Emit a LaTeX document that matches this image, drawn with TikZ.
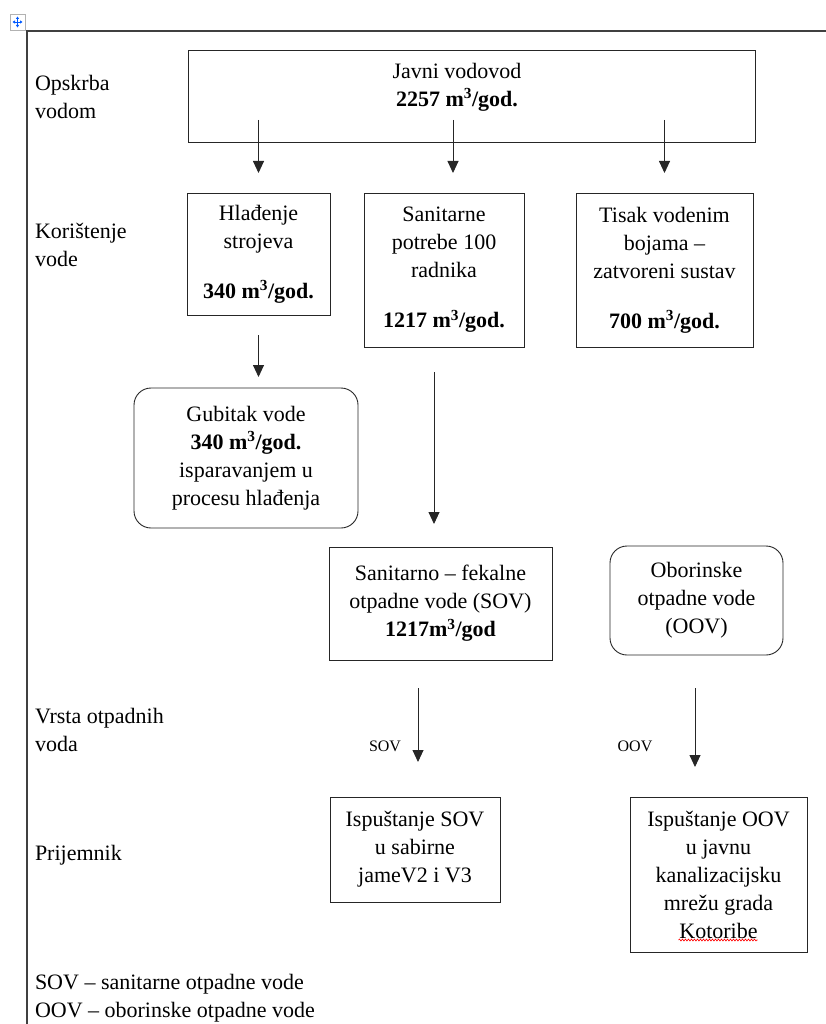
\documentclass[tikz,border=0pt]{standalone}
\usepackage{fontspec}
\setmainfont{Liberation Serif}
\usetikzlibrary{arrows.meta,decorations.pathmorphing,calc}
\begin{document}
\begin{tikzpicture}[x=1pt,y=-1pt,
  every node/.style={inner sep=0pt,outer sep=0pt},
  txt/.style={font=\fontsize{22}{28}\selectfont,align=center,text=black},
  side/.style={font=\fontsize{22}{28.5}\selectfont,align=left,anchor=west,text=black},
  small/.style={font=\fontsize{16}{19}\selectfont,text=black},
  box/.style={draw=black!85,line width=0.9pt,txt},
  rbox/.style={box,rounded corners=17pt},
  arr/.style={draw=black!85,line width=0.9pt,-{Triangle[length=12pt,width=11pt]}},
  frame/.style={draw=black!75,line width=1.1pt}]
\useasboundingbox (0,0) rectangle (826,1024);
% page frame and move handle
\draw[frame] (27,1024) -- (27,31) -- (826,31);
\draw[draw=black!30,fill=white,line width=0.6pt] (10,14) rectangle (25,30);
\draw[draw=blue!65!cyan,line width=0.8pt,{Triangle[length=2.5pt,width=3pt]}-{Triangle[length=2.5pt,width=3pt]}] (12.5,22) -- (22.5,22);
\draw[draw=blue!65!cyan,line width=0.8pt,{Triangle[length=2.5pt,width=3pt]}-{Triangle[length=2.5pt,width=3pt]}] (17.5,16.5) -- (17.5,27.5);
% left labels
\node[side] (l1) at (35,97) {Opskrba\\vodom};
\node[side] (l2) at (35,245) {Korištenje\\vode};
\node[side] (l3) at (35,730) {Vrsta otpadnih\\voda};
\node[side] (l4) at (35,855) {Prijemnik};
\node[side] (l5) at (35,998) {SOV – sanitarne otpadne vode\\OOV – oborinske otpadne vode};
% top box
\node[box,minimum width=567pt,minimum height=92pt] (top) at (471.5,96) {};
\node[txt] (toptxt) at (457,87) {Javni vodovod\\\textbf{2257 m\textsuperscript{3}/god.}};
% usage boxes
\node[box,minimum width=143pt,minimum height=122pt] (hl) at (258.5,254) {Hlađenje\\strojeva\\[22pt]\textbf{340 m\textsuperscript{3}/god.}};
\node[box,minimum width=160pt,minimum height=154pt] (san) at (444,270) {Sanitarne\\potrebe 100\\radnika\\[22pt]\textbf{1217 m\textsuperscript{3}/god.}};
\node[box,minimum width=177pt,minimum height=154pt] (tis) at (664.5,270) {Tisak vodenim\\bojama –\\zatvoreni sustav\\[22pt]\textbf{700 m\textsuperscript{3}/god.}};
% loss
\node[rbox,minimum width=224pt,minimum height=140pt] (gub) at (246,458) {Gubitak vode\\\textbf{340 m\textsuperscript{3}/god.}\\isparavanjem u\\procesu hlađenja};
% waste water
\node[box,minimum width=223pt,minimum height=113pt] (sov) at (440.5,603.5) {Sanitarno – fekalne\\otpadne vode (SOV)\\\textbf{1217m\textsuperscript{3}/god}};
\node[rbox,minimum width=173pt,minimum height=109pt] (oov) at (696.5,600.5) {Oborinske\\otpadne vode\\(OOV)};
% receivers
\node[box,minimum width=170pt,minimum height=105pt] (isov) at (415,849.5) {Ispuštanje SOV\\u sabirne\\jameV2 i V3};
\node[box,minimum width=177pt,minimum height=155pt] (ioov) at (718.5,874.5) {Ispuštanje OOV\\u javnu\\kanalizacijsku\\mrežu grada\\Kotoribe};
\draw[red,line width=0.6pt,decorate,decoration={snake,amplitude=1pt,segment length=3pt}] ($(ioov.south)+(-40,-12)$) -- ($(ioov.south)+(39,-12)$);
% arrows
\draw[arr] ([yshift=22pt]top.south -| hl.north) -- ([yshift=20pt]hl.north);
\draw[arr] ([xshift=9pt,yshift=22pt]top.south -| san.north) -- ([xshift=9pt,yshift=20pt]san.north);
\draw[arr] ([yshift=22pt]top.south -| tis.north) -- ([yshift=20pt]tis.north);
\draw[arr] ([yshift=-20pt]hl.south) -- ([yshift=11pt]hl.south |- gub.north);
\draw[arr] ([xshift=-10pt,yshift=-25pt]san.south) -- ([xshift=-10pt,yshift=23pt]sov.north -| san.south);
\draw[arr] ([xshift=-22.5pt,yshift=-28pt]sov.south) -- ([xshift=-22.5pt,yshift=-102pt]sov.south);
\draw[arr] ([xshift=-1.5pt,yshift=-33pt]oov.south) -- ([xshift=-1.5pt,yshift=-112pt]oov.south);
% arrow labels
\node[small] (lsov) at (385,746) {SOV};
\node[small] (loov) at (635,746) {OOV};
\end{tikzpicture}
\end{document}
